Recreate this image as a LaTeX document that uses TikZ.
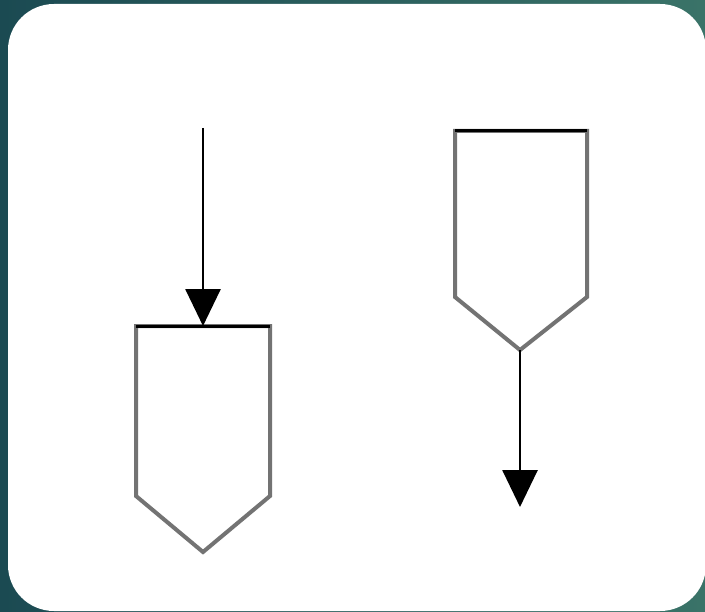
\documentclass[tikz,border=0pt]{standalone}
\usetikzlibrary{arrows.meta}
\definecolor{bgleft}{RGB}{27,74,82}
\definecolor{bgright}{RGB}{58,115,104}
\definecolor{outline}{RGB}{115,115,115}
\tikzset{
  pentshape/.style={draw=outline, line width=4bp, fill=white, line join=miter},
  flowarrow/.style={draw=black, line width=2.8bp, -{Triangle[width=35bp,length=37bp]}},
}
\begin{document}
\begin{tikzpicture}[x=1bp,y=-1bp]
\useasboundingbox (0,0) rectangle (705,612);
\shade[left color=bgleft, right color=bgright] (0,0) rectangle (705,612);
\fill[white, rounded corners=46bp] (8,4) rectangle (706,611);
% left shape
\coordinate (Lsrc) at (203,128);
\coordinate (Ltop) at (203,326);
\draw[pentshape] (136,326) -- (270,326) -- (270,496) -- (203,552) -- (136,496) -- cycle;
\draw[black, line width=3bp] (136,326) -- (270,326);
\draw[flowarrow] (Lsrc) -- (Ltop);
% right shape
\coordinate (Rtip) at (520,350);
\coordinate (Rdst) at (520,507);
\draw[pentshape] (455,131) -- (587,131) -- (587,297) -- (Rtip) -- (455,297) -- cycle;
\draw[black, line width=3bp] (455,131) -- (587,131);
\draw[flowarrow] (Rtip) -- (Rdst);
\end{tikzpicture}
\end{document}
